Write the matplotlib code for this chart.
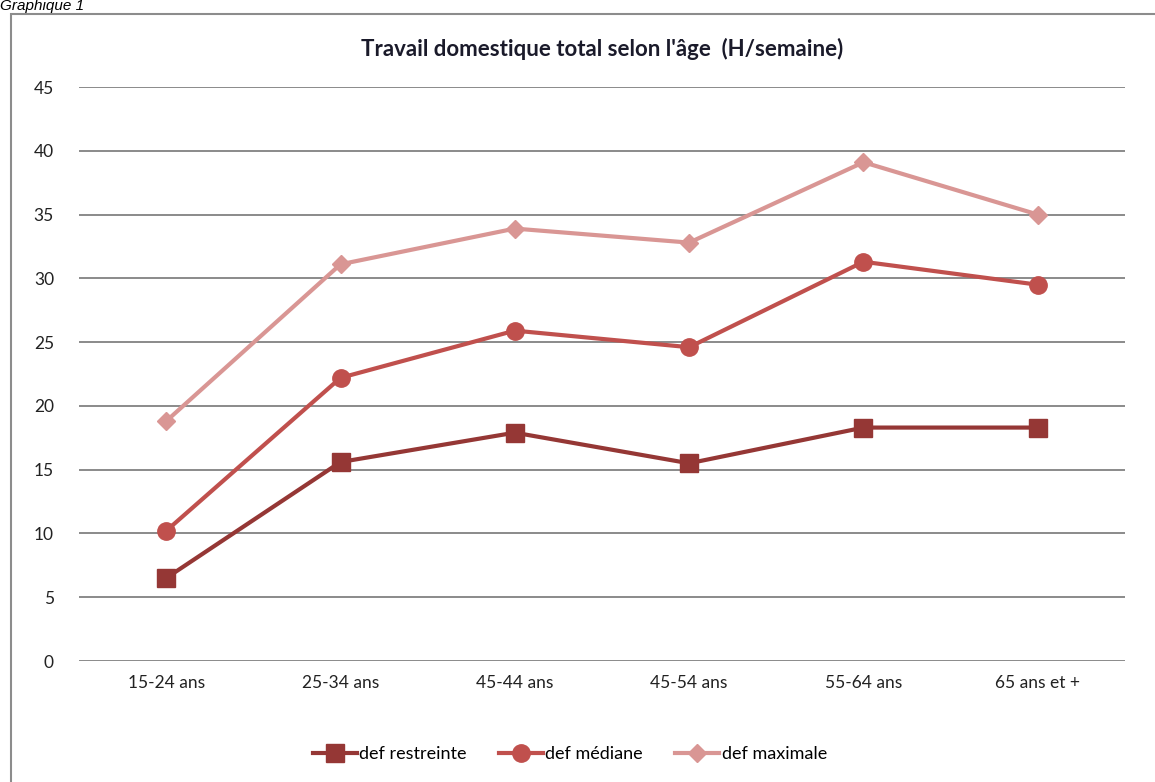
import matplotlib.pyplot as plt
from matplotlib.patches import Rectangle
import numpy as np

# age groups on the x axis
labels = ['15-24 ans', '25-34 ans', '45-44 ans', '45-54 ans', '55-64 ans', '65 ans et +']

# hours per week for each definition of domestic work
restreinte = [6.5, 15.6, 17.9, 15.5, 18.3, 18.3]
mediane = [10.2, 22.2, 25.9, 24.6, 31.3, 29.5]
maximale = [18.8, 31.1, 33.9, 32.8, 39.1, 35.0]

yticks = [0, 5, 10, 15, 20, 25, 30, 35, 40, 45]

plt.rcParams['font.family'] = ['Lato', 'DejaVu Sans']

fig = plt.figure(figsize=(11.55, 7.82), dpi=100)
ax = fig.add_axes([79 / 1155, 121 / 782, 1046 / 1155, 574 / 782])

xpos = np.arange(len(labels))

ax.plot(xpos, maximale, color='#D99694', lw=3, marker='D', ms=9, label='def maximale', zorder=3)
ax.plot(xpos, mediane, color='#C0504D', lw=3, marker='o', ms=12.5, label='def médiane', zorder=4)
ax.plot(xpos, restreinte, color='#953735', lw=3, marker='s', ms=13, label='def restreinte', zorder=5)

ax.set_xlim(-0.5, len(labels) - 0.5)
ax.set_ylim(0, 45)
ax.set_xticks(xpos)
ax.set_xticklabels(labels, fontsize=12.5)
ax.set_yticks(yticks)
ax.set_yticklabels([str(v) for v in yticks], fontsize=12.5)
ax.tick_params(length=0, colors='#222222')
ax.tick_params(axis='y', pad=18)
ax.tick_params(axis='x', pad=10)
ax.grid(axis='y', color='#8a8a8a', lw=1.4)
ax.set_axisbelow(True)
for s in ax.spines.values():
    s.set_visible(False)

ax.set_title("Travail domestique total selon l'âge  (H/semaine)",
             fontsize=16, fontweight='bold', color='#1a1a2a', pad=22)

# legend in the order restreinte, médiane, maximale
h, l = ax.get_legend_handles_labels()
order = [2, 1, 0]
fig.legend([h[i] for i in order], [l[i] for i in order], loc='center',
           bbox_to_anchor=(570 / 1155, 1 - 754 / 782), ncol=3, frameon=False,
           fontsize=13, handlelength=2.4, columnspacing=1.8, handletextpad=0.15)

# chart frame and caption above it
fig.patches.append(Rectangle((11 / 1155, -0.1), 1.2, 1 - 14 / 782 + 0.1,
                             transform=fig.transFigure, fill=False,
                             edgecolor='#8c8c8c', lw=1.5))
fig.text(0.0, 1 - 10 / 782, 'Graphique 1', fontsize=11, style='italic',
         family='Liberation Sans', va='baseline', ha='left')

fig.savefig('out.png', dpi=100)
